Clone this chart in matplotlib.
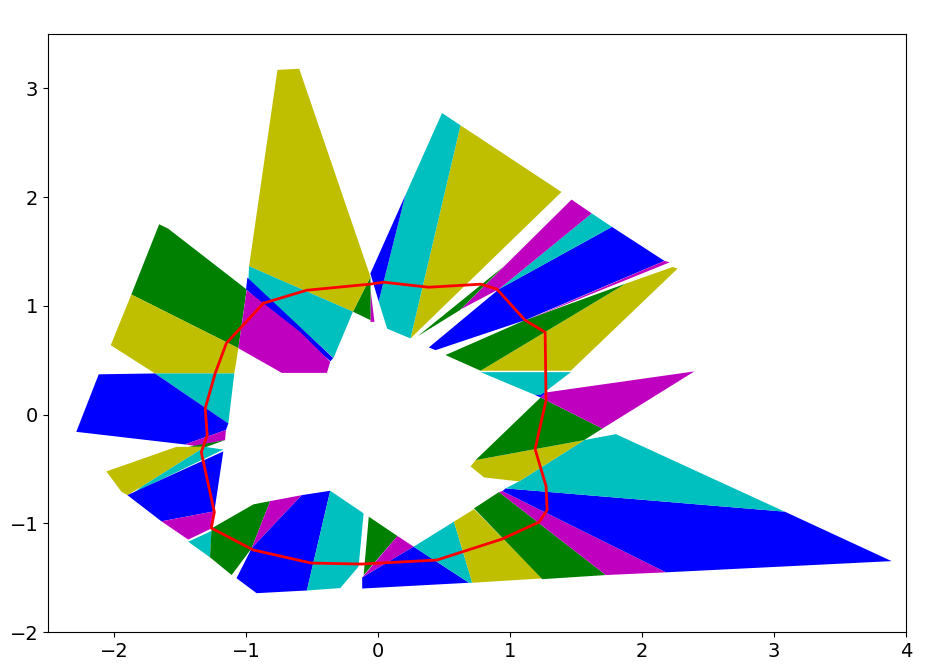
import matplotlib
matplotlib.use("Agg")
import matplotlib.pyplot as plt
from matplotlib.patches import Polygon

# colour code of each polygon, in drawing order
poly_colors = ["g", "y", "c", "b", "m", "g", "y", "c", "b", "m", "c", "g", "m", "b", "c",
               "g", "m", "b", "c", "y", "g", "m", "b", "c", "y", "g", "m", "b", "c",
               "y", "g", "b", "m", "c", "m", "y", "g", "c", "b", "m", "g", "y", "c", "b", "m"]

# polygon vertices (x, y)
polys = [
    [(-1.658, 1.75), (-1.59, 1.71), (-0.995, 1.15), (-1.058, 0.61), (-1.869, 1.104)],
    [(-1.869, 1.104), (-1.058, 0.61), (-1.089, 0.378), (-1.69, 0.378), (-2.025, 0.638)],
    [(-1.69, 0.378), (-1.089, 0.378), (-1.134, -0.082)],
    [(-2.116, 0.37), (-1.69, 0.378), (-1.134, -0.082), (-1.152, -0.142), (-1.463, -0.275), (-2.286, -0.159)],
    [(-1.463, -0.275), (-1.152, -0.142), (-1.159, -0.235), (-1.38, -0.29)],
    [(-1.438, -0.297), (-1.159, -0.235), (-1.299, -0.297)],
    [(-2.058, -0.523), (-1.527, -0.297), (-1.311, -0.297), (-1.792, -0.664), (-1.899, -0.741), (-1.944, -0.71)],
    [(-1.792, -0.664), (-1.311, -0.297), (-1.172, -0.322), (-1.85, -0.72)],
    [(-1.899, -0.741), (-1.172, -0.339), (-1.24, -0.89), (-1.641, -0.982)],
    [(-1.641, -0.982), (-1.24, -0.89), (-1.261, -1.047), (-1.438, -1.15)],
    [(-1.438, -1.17), (-1.261, -1.07), (-1.273, -1.313)],
    [(-1.261, -1.047), (-0.944, -0.826), (-0.817, -0.796), (-0.957, -1.229), (-1.109, -1.476), (-1.273, -1.313)],
    [(-0.817, -0.796), (-0.577, -0.741), (-0.957, -1.229)],
    [(-0.577, -0.741), (-0.362, -0.701), (-0.539, -1.618), (-0.92, -1.643), (-1.072, -1.505), (-0.957, -1.229)],
    [(-0.362, -0.701), (-0.109, -0.909), (-0.147, -1.397), (-0.286, -1.596), (-0.539, -1.618)],
    [(-0.07, -0.939), (0.147, -1.117), (-0.109, -1.477)],
    [(-0.12, -1.499), (0.147, -1.117), (0.27, -1.215)],
    [(-0.12, -1.6), (-0.12, -1.499), (0.27, -1.215), (0.689, -1.547)],
    [(0.27, -1.215), (0.575, -0.985), (0.714, -1.547), (0.689, -1.547)],
    [(0.575, -0.985), (0.727, -0.871), (1.245, -1.507), (0.714, -1.547)],
    [(0.727, -0.863), (0.916, -0.713), (1.726, -1.476), (1.245, -1.514)],
    [(0.916, -0.713), (0.942, -0.704), (2.182, -1.451), (1.726, -1.476)],
    [(0.942, -0.704), (0.967, -0.679), (3.081, -0.893), (3.891, -1.348), (2.182, -1.451)],
    [(0.967, -0.679), (1.068, -0.615), (1.562, -0.235), (1.802, -0.18), (3.081, -0.893)],
    [(0.739, -0.419), (1.562, -0.235), (1.068, -0.615), (0.803, -0.578), (0.701, -0.477)],
    [(1.232, 0.157), (1.7, -0.129), (1.562, -0.235), (0.739, -0.419)],
    [(1.271, 0.203), (2.397, 0.397), (1.7, -0.129), (1.232, 0.157)],
    [(1.182, 0.184), (1.271, 0.203), (1.232, 0.157)],
    [(0.777, 0.39), (1.461, 0.39), (1.232, 0.178), (1.182, 0.184)],
    [(2.27, 1.343), (2.232, 1.357), (1.878, 1.205), (0.777, 0.403), (1.461, 0.403)],
    [(0.511, 0.547), (0.777, 0.403), (1.878, 1.205), (1.114, 0.868)],
    [(1.772, 1.726), (2.17, 1.413), (1.114, 0.868), (0.435, 0.592), (0.385, 0.617), (0.916, 1.153)],
    [(2.17, 1.413), (2.21, 1.40), (1.114, 0.862)],
    [(1.619, 1.85), (1.772, 1.726), (0.916, 1.153)],
    [(1.466, 1.977), (1.619, 1.85), (0.916, 1.153), (0.625, 0.966)],
    [(0.625, 2.66), (1.39, 2.047), (0.246, 0.7)],
    [(0.95, 1.36), (0.62, 0.96), (0.30, 0.72)],
    [(0.207, 2.017), (0.485, 2.773), (0.625, 2.66), (0.246, 0.7), (0.069, 0.79), (0.005, 1.04)],
    [(-0.058, 1.297), (0.207, 2.017), (0.005, 1.04)],
    [(-0.057, 1.15), (-0.027, 0.852), (-0.057, 0.852)],
    [(-0.19, 0.946), (-0.057, 1.266), (-0.057, 0.868)],
    [(-0.762, 3.17), (-0.597, 3.18), (-0.057, 1.266), (-0.19, 0.946), (-0.977, 1.364)],
    [(-0.977, 1.364), (-0.19, 0.946), (-0.337, 0.521), (-0.982, 1.236)],
    [(-0.99, 1.26), (-0.34, 0.52), (-0.36, 0.49), (-1.0, 1.15)],
    [(-0.995, 1.144), (-0.59, 0.76), (-0.362, 0.485), (-0.387, 0.383), (-0.729, 0.383), (-1.058, 0.61)],
]

# closed red outline
ring_x = [-0.868, -0.542, -0.063, 0.043, 0.385, 0.78, 0.901, 1.114, 1.266, 1.273, 1.19, 1.273,
          1.281, 1.22, 0.939, 0.446, -0.124, -0.504, -0.944, -1.263, -1.24, -1.339, -1.294,
          -1.309, -1.233, -1.149, -0.868]
ring_y = [1.024, 1.143, 1.199, 1.217, 1.171, 1.199, 1.153, 0.868, 0.757, 0.132, -0.318, -0.658,
          -0.879, -0.989, -1.145, -1.338, -1.375, -1.366, -1.246, -1.044, -0.897, -0.346, -0.189,
          0.059, 0.381, 0.656, 1.024]

fig = plt.figure(figsize=(9.53, 6.65), dpi=100)
ax = fig.add_axes([0.0504, 0.0496, 0.9003, 0.8993])
for verts, col in zip(polys, poly_colors):
    ax.add_patch(Polygon(verts, closed=True, facecolor=col, edgecolor="none", linewidth=0))
ax.plot(ring_x, ring_y, color="r", linewidth=2)
ax.set_xlim(-2.5, 4)
ax.set_ylim(-2, 3.5)
ax.set_xticks([-2, -1, 0, 1, 2, 3, 4])
ax.set_yticks([-2, -1, 0, 1, 2, 3])
ax.tick_params(labelsize=14)
plt.savefig("out.png")
